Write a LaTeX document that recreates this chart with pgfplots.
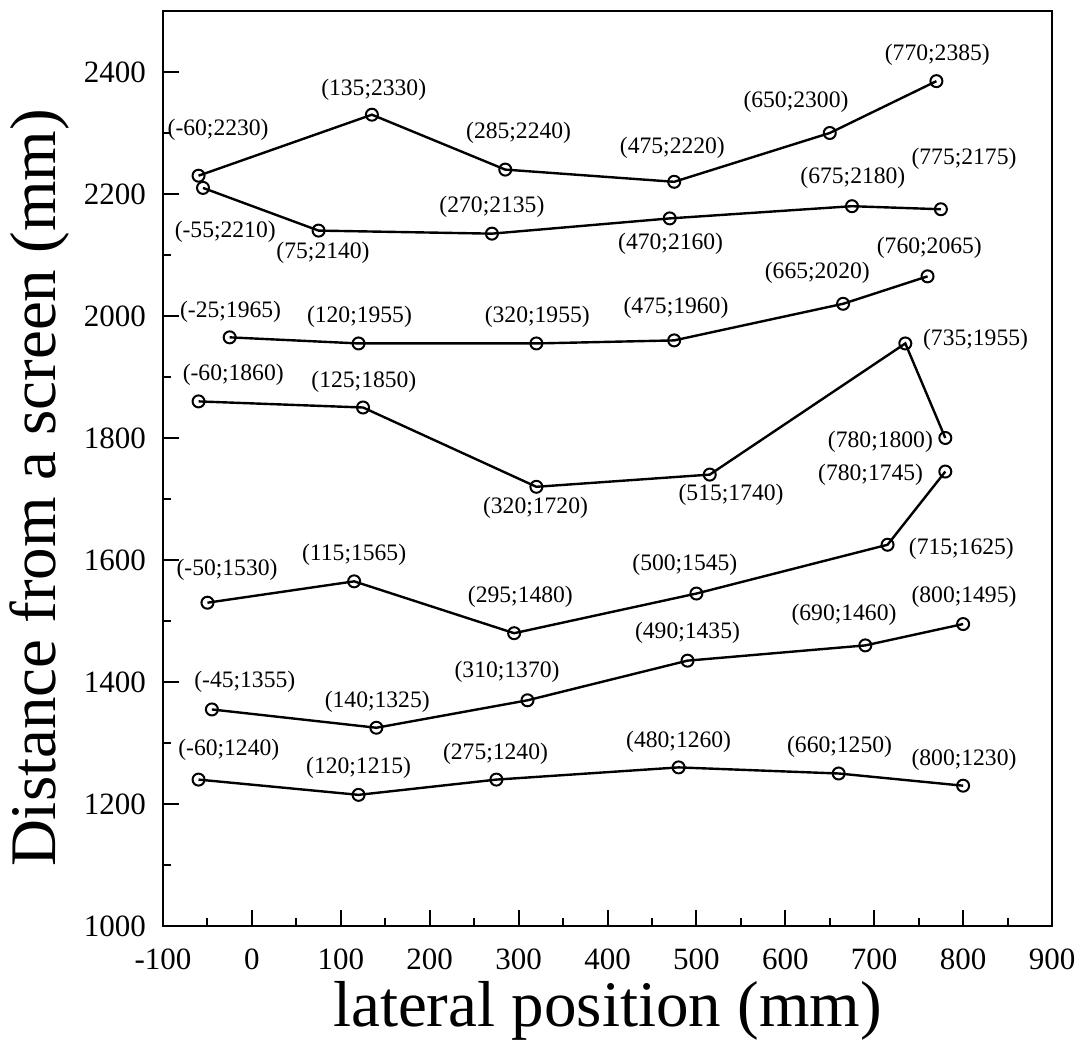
\documentclass[border=0pt]{standalone}
\usepackage{fontspec}
\setmainfont{Liberation Serif}
\usepackage{pgfplots}
\pgfplotsset{compat=1.18}
\tikzset{lbl/.style={font=\fontsize{11.8}{14}\selectfont, inner sep=0pt, anchor=center}}
\pgfplotsset{ser/.style={black, solid, line width=1.2pt, mark=o, mark size=3pt, mark options={solid, line width=1pt, fill=white}}}
\begin{document}
\begin{tikzpicture}
\begin{axis}[name=ax, scale only axis, width=444.5pt, height=457.5pt,
  xmin=-100, xmax=900, ymin=1000, ymax=2500,
  xtick={-100,0,...,900}, ytick={1000,1200,...,2400},
  minor x tick num=1, minor y tick num=1,
  tick pos=left, tick align=inside,
  major tick length=8pt, minor tick length=4pt,
  every tick/.style={black, line width=1pt},
  axis line style={line width=1.3pt},
  /pgf/number format/assume math mode=true,
  /pgf/number format/set thousands separator={},
  tick label style={font=\fontsize{15.5}{18}\selectfont},
  yticklabel style={xshift=-5pt}, xticklabel shift=8pt,
  xlabel={lateral position (mm)}, ylabel={Distance from a screen (mm)},
  xlabel style={font=\fontsize{32.5}{38}\selectfont, inner sep=0pt, at={(axis description cs:0.5,0)}, anchor=base, yshift=-50pt},
  ylabel style={font=\fontsize{32.5}{38}\selectfont, inner sep=0pt, at={(axis description cs:-0.1384,0.4787)}, anchor=center},
]
\addplot[ser] coordinates {(-60,2230) (135,2330) (285,2240) (475,2220) (650,2300) (770,2385)};
\addplot[ser] coordinates {(-55,2210) (75,2140) (270,2135) (470,2160) (675,2180) (775,2175)};
\addplot[ser] coordinates {(-25,1965) (120,1955) (320,1955) (475,1960) (665,2020) (760,2065)};
\addplot[ser] coordinates {(-60,1860) (125,1850) (320,1720) (515,1740) (735,1955) (780,1800)};
\addplot[ser] coordinates {(-50,1530) (115,1565) (295,1480) (500,1545) (715,1625) (780,1745)};
\addplot[ser] coordinates {(-45,1355) (140,1325) (310,1370) (490,1435) (690,1460) (800,1495)};
\addplot[ser] coordinates {(-60,1240) (120,1215) (275,1240) (480,1260) (660,1250) (800,1230)};
% series 1 labels
\node[lbl] at (axis cs:-38,2305) {(-60;2230)};
\node[lbl] at (axis cs:137,2370) {(135;2330)};
\node[lbl] at (axis cs:300,2300) {(285;2240)};
\node[lbl] at (axis cs:473,2275) {(475;2220)};
\node[lbl] at (axis cs:612,2351) {(650;2300)};
\node[lbl] at (axis cs:771,2428) {(770;2385)};
% series 2
\node[lbl] at (axis cs:-30,2138) {(-55;2210)};
\node[lbl] at (axis cs:80,2103) {(75;2140)};
\node[lbl] at (axis cs:270,2179) {(270;2135)};
\node[lbl] at (axis cs:471,2119) {(470;2160)};
\node[lbl] at (axis cs:676,2226) {(675;2180)};
\node[lbl] at (axis cs:801,2258) {(775;2175)};
% series 3
\node[lbl] at (axis cs:-24,2007) {(-25;1965)};
\node[lbl] at (axis cs:121,1999) {(120;1955)};
\node[lbl] at (axis cs:321,1999) {(320;1955)};
\node[lbl] at (axis cs:477,2013) {(475;1960)};
\node[lbl] at (axis cs:636,2070) {(665;2020)};
\node[lbl] at (axis cs:762,2111) {(760;2065)};
% series 4
\node[lbl] at (axis cs:-21,1903) {(-60;1860)};
\node[lbl] at (axis cs:126,1892) {(125;1850)};
\node[lbl] at (axis cs:319,1685) {(320;1720)};
\node[lbl] at (axis cs:539,1707) {(515;1740)};
\node[lbl] at (axis cs:814,1961) {(735;1955)};
\node[lbl] at (axis cs:707,1794) {(780;1800)};
% series 5
\node[lbl] at (axis cs:-28,1584) {(-50;1530)};
\node[lbl] at (axis cs:115,1608) {(115;1565)};
\node[lbl] at (axis cs:302,1540) {(295;1480)};
\node[lbl] at (axis cs:487,1592) {(500;1545)};
\node[lbl] at (axis cs:798,1619) {(715;1625)};
\node[lbl] at (axis cs:696,1739) {(780;1745)};
% series 6
\node[lbl] at (axis cs:-8,1400) {(-45;1355)};
\node[lbl] at (axis cs:141,1368) {(140;1325)};
\node[lbl] at (axis cs:287,1417) {(310;1370)};
\node[lbl] at (axis cs:490,1480) {(490;1435)};
\node[lbl] at (axis cs:666,1510) {(690;1460)};
\node[lbl] at (axis cs:801,1540) {(800;1495)};
% series 7
\node[lbl] at (axis cs:-26,1289) {(-60;1240)};
\node[lbl] at (axis cs:120,1259) {(120;1215)};
\node[lbl] at (axis cs:274,1283) {(275;1240)};
\node[lbl] at (axis cs:480,1302) {(480;1260)};
\node[lbl] at (axis cs:661,1294) {(660;1250)};
\node[lbl] at (axis cs:801,1272) {(800;1230)};
\end{axis}
\pgfresetboundingbox
\path (ax.south west) ++(-81.5pt,-59.5pt) rectangle ++(539pt,522.5pt);
\end{tikzpicture}
\end{document}
